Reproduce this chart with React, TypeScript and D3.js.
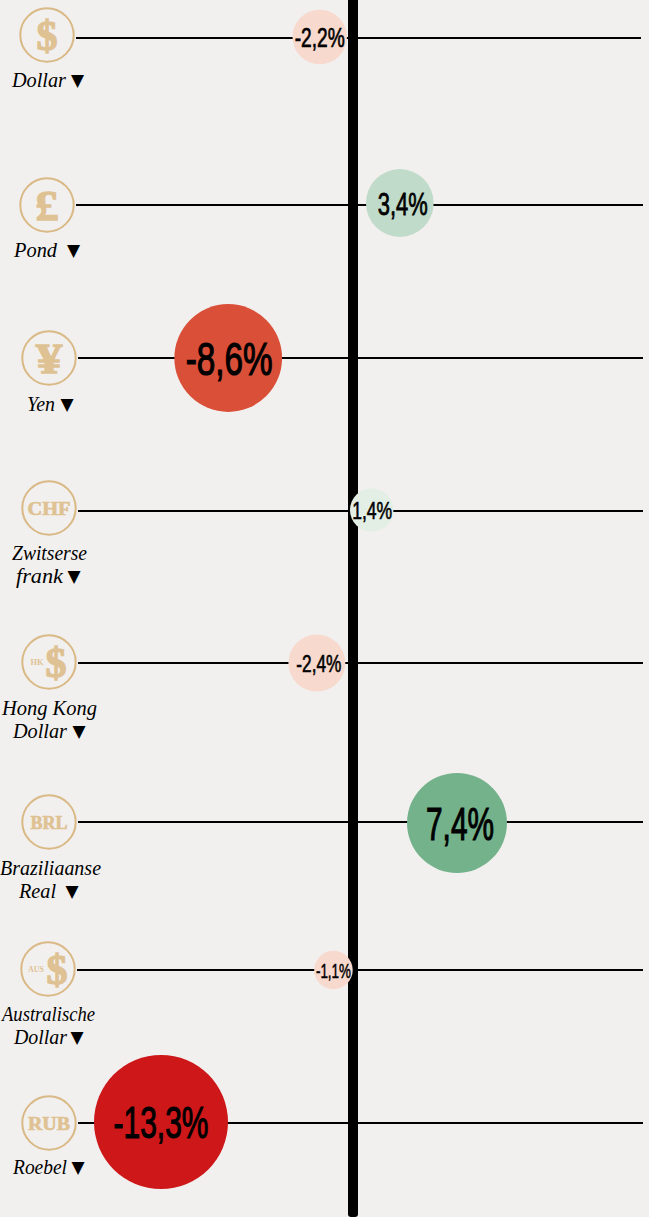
import React from 'react';
import * as d3 from 'd3';

// Currency change in percent
const currencies = ['Dollar', 'Pond', 'Yen', 'Zwitserse frank', 'Hong Kong Dollar', 'Braziliaanse Real', 'Australische Dollar', 'Roebel'];
const changes = [-2.2, 3.4, -8.6, 1.4, -2.4, 7.4, -1.1, -13.3];
const changeLabels = ['-2,2%', '3,4%', '-8,6%', '1,4%', '-2,4%', '7,4%', '-1,1%', '-13,3%'];
const iconSymbols = ['$', '£', '¥', 'CHF', '$', 'BRL', '$', 'RUB'];
const iconPrefixes = ['', '', '', '', 'HK', '', 'AUS', ''];
const labelLines = [['Dollar'], ['Pond'], ['Yen'], ['Zwitserse', 'frank'], ['Hong Kong', 'Dollar'], ['Braziliaanse', 'Real'], ['Australische', 'Dollar'], ['Roebel']];

// layout per row
const rowY = [38, 205, 358, 511, 663, 822, 970, 1123];
const iconX = [47, 47, 49, 49, 49, 49, 48, 49];
const iconDy = [-3, 0, 0, -3, -1, 0, -1, 0];
const symbolDx = [0, 0, 0, 0, 7, 0, 9, 0];
const symbolWidth = [21, 23, 26, 43, 21, 37, 21, 42];
const prefixWidth = [0, 0, 0, 0, 13, 0, 16, 0];
const bubbleDy = [-1, -2, 0, -1, 0, 1, 0, -1];
const bubbleDx = [0, 0, 0, 0.5, 0, 0, -2, 0];
const lineEnd = [641, 643, 643, 643, 643, 643, 643, 643];
const valueFont = [28, 32, 47, 24, 24, 46, 21, 44];
const valueWidth = [50, 50, 87, 40, 45, 68, 35, 95];
const valueDx = [0, 3, 1, 0.5, 2, 3, 0, 0];
const labelBase = [87, 257, 411, 560, 715, 875, 1021, 1174];
const labelStart = [[12], [14], [27], [12, 16], [2, 13], [0, 19], [2, 14], [13]];
const labelWidth = [[54], [43], [28], [75, 47], [95, 54], [101, 37], [93, 53], [54]];
const arrowX = [77.5, 73.5, 67, 74, 79, 72, 77, 78];

const width = 649;
const height = 1217;
const bg = '#f2f0ef';
const gold = '#dfc293';
const ring = '#d9b985';
const serif = '"Liberation Serif", serif';
const sans = '"Liberation Sans", sans-serif';

const x = d3.scaleLinear().domain([-13.3, 7.4]).range([161, 457]);
const r = d3.scaleSqrt().domain([0, 13.3]).range([0, 67]);
const color = d3
  .scaleThreshold<number, string>()
  .domain([-10, -5, 0, 2, 5])
  .range(['#cd1719', '#d94f38', '#f7d9cd', '#e3eee5', '#c0dbc9', '#74b28c']);

const App = () => {
  return (
    <svg
      width={width}
      height={height}
      viewBox={`0 0 ${width} ${height}`}
      style={{ position: 'fixed', left: 0, top: 0, display: 'block' }}
    >
      <rect width={width} height={height} fill={bg} />

      {currencies.map((name, i) => (
        <line key={name} x1={iconX[i] + 29} x2={lineEnd[i]} y1={rowY[i]} y2={rowY[i]} stroke="#000" strokeWidth={2} />
      ))}

      <path d="M348,-2H358V1214a3,3 0 0 1 -3,3H351a3,3 0 0 1 -3,-3Z" fill="#000" />

      {currencies.map((name, i) => (
        <circle
          key={name}
          cx={x(changes[i]) + bubbleDx[i]}
          cy={rowY[i] + bubbleDy[i]}
          r={r(Math.abs(changes[i]))}
          fill={color(changes[i])}
        />
      ))}

      {currencies.map((name, i) => (
        <text
          key={name}
          x={x(changes[i]) + bubbleDx[i] + valueDx[i]}
          y={rowY[i] + bubbleDy[i]}
          dy="0.36em"
          textAnchor="middle"
          fontFamily={sans}
          fontSize={valueFont[i]}
          textLength={valueWidth[i]}
          lengthAdjust="spacingAndGlyphs"
          fill="#000"
          stroke="#000"
          strokeWidth={valueFont[i] * 0.025}
        >
          {changeLabels[i]}
        </text>
      ))}

      {currencies.map((name, i) => {
        const cy = rowY[i] + iconDy[i];
        const isCode = iconSymbols[i].length > 1;
        const prefix = iconPrefixes[i];
        return (
          <g key={name}>
            <circle cx={iconX[i]} cy={cy} r={26.7} fill={bg} stroke={ring} strokeWidth={2} />
            {prefix && (
              <text
                x={iconX[i] - 12}
                y={cy}
                dy="0.35em"
                textAnchor="middle"
                fontFamily={serif}
                fontWeight="bold"
                fontSize={8}
                textLength={prefixWidth[i]}
                lengthAdjust="spacingAndGlyphs"
                fill={gold}
              >
                {prefix}
              </text>
            )}
            <text
              x={iconX[i] + symbolDx[i]}
              y={cy}
              dy="0.35em"
              textAnchor="middle"
              fontFamily={serif}
              fontWeight="bold"
              fontSize={isCode ? 19 : 42}
              textLength={symbolWidth[i]}
              lengthAdjust="spacingAndGlyphs"
              fill={gold}
              stroke={gold}
              strokeWidth={isCode ? 0.7 : 1.4}
            >
              {iconSymbols[i]}
            </text>
          </g>
        );
      })}

      {currencies.map((name, i) => (
        <g key={name}>
          {labelLines[i].map((line, j) => (
            <text
              key={line}
              x={labelStart[i][j]}
              y={labelBase[i] + j * 23}
              fontFamily={serif}
              fontStyle="italic"
              fontSize={21}
              textLength={labelWidth[i][j]}
              lengthAdjust="spacingAndGlyphs"
              fill="#000"
            >
              {line}
            </text>
          ))}
          <text
            x={arrowX[i]}
            y={labelBase[i] + (labelLines[i].length - 1) * 23 - 1}
            textAnchor="middle"
            fontFamily='"DejaVu Sans", sans-serif'
            fontSize={17}
            fill="#000"
          >
            ▼
          </text>
        </g>
      ))}
    </svg>
  );
};

export default App;
